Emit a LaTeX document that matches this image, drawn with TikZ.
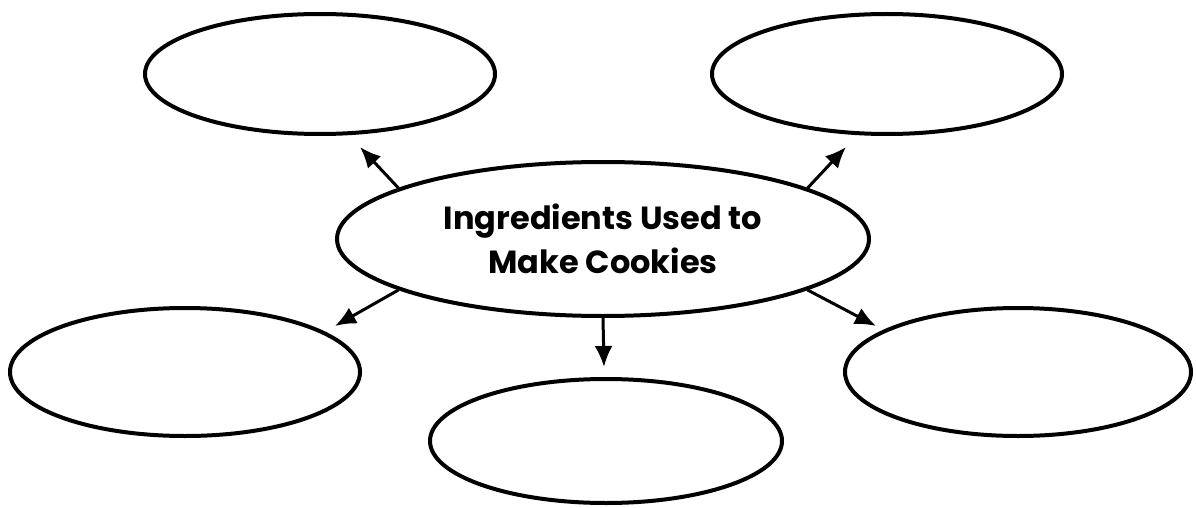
\documentclass[tikz,border=0pt]{standalone}
\usepackage{fontspec}
\setmainfont{Poppins}
\usetikzlibrary{shapes.geometric}
\usetikzlibrary{arrows.meta}

\tikzset{bubble/.style={draw,ellipse,line width=4pt,inner sep=0pt,minimum width=350pt,minimum height=120pt}}
\tikzset{link/.style={line width=3pt,-{Latex[length=21pt,width=18pt]}}}

\begin{document}
\begin{tikzpicture}[x=1pt,y=-1pt]
\useasboundingbox (0,0) rectangle (1196,508);
\node (c) [bubble,minimum width=532pt,minimum height=154pt,align=center,font=\bfseries\fontsize{32}{44}\selectfont] at (603,239) {Ingredients Used to\\Make Cookies};
\node (tl) [bubble] at (320,74) {};
\node (tr) [bubble] at (887,74) {};
\node (bl) [bubble,minimum height=128pt] at (185,372) {};
\node (br) [bubble,minimum width=346pt,minimum height=128pt] at (1018,372) {};
\node (bm) [bubble,minimum width=352pt,minimum height=124pt] at (606,441) {};
\coordinate (tltip) at (360,147);
\coordinate (trtip) at (846,147);
\coordinate (bltip) at (335,326);
\coordinate (brtip) at (876,326);
\coordinate (bmtip) at (604,367);
\draw [link] (c.166) -- (tltip);
\draw [link] (c.14) -- (trtip);
\draw [link] (c.194) -- (bltip);
\draw [link] (c.-14) -- (brtip);
\draw [link] (c.south) -- (bmtip);
\end{tikzpicture}
\end{document}
